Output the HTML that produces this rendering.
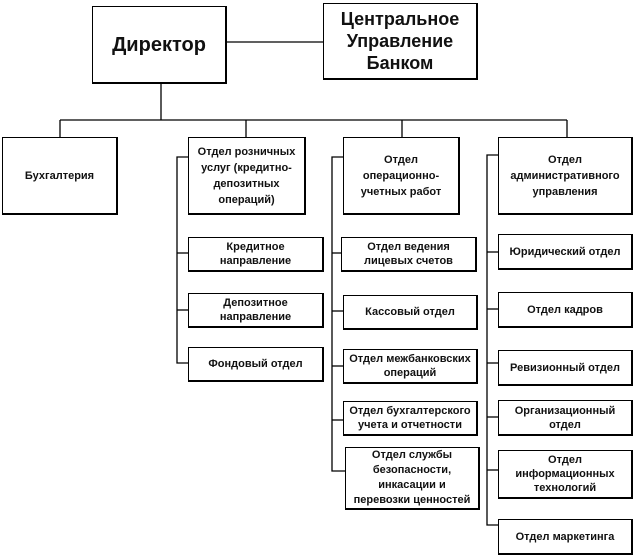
<!DOCTYPE html>
<html><head><meta charset="utf-8"><style>
body{margin:0;width:636px;height:556px;background:#fff;position:relative;overflow:hidden;font-family:"Liberation Sans","Noto Sans CJK SC",sans-serif;}
.b{position:absolute;box-sizing:border-box;border:1px solid #000;border-right-width:2px;border-bottom-width:2px;background:#fff;display:flex;align-items:center;justify-content:center;text-align:center;font-weight:bold;font-size:11px;line-height:14px;color:#111;}
.t{line-height:16px}
svg{position:absolute;left:0;top:0}
</style></head><body>
<svg width="636" height="556" stroke="#000" stroke-width="1.3" fill="none">
<line x1="227" y1="42" x2="323" y2="42"/>
<line x1="161" y1="84" x2="161" y2="120"/>
<line x1="60" y1="120" x2="567" y2="120"/>
<line x1="60" y1="120" x2="60" y2="137"/>
<line x1="246" y1="120" x2="246" y2="137"/>
<line x1="402" y1="120" x2="402" y2="137"/>
<line x1="567" y1="120" x2="567" y2="137"/>
<polyline points="188,157 177,157 177,363 188,363"/>
<line x1="177" y1="253" x2="188" y2="253"/>
<line x1="177" y1="310" x2="188" y2="310"/>
<polyline points="343,157 332,157 332,471 345,471"/>
<line x1="332" y1="253" x2="341" y2="253"/>
<line x1="332" y1="311" x2="343" y2="311"/>
<line x1="332" y1="366" x2="343" y2="366"/>
<line x1="332" y1="420" x2="343" y2="420"/>
<polyline points="498,155 487,155 487,525 498,525"/>
<line x1="487" y1="252" x2="498" y2="252"/>
<line x1="487" y1="309" x2="498" y2="309"/>
<line x1="487" y1="363" x2="498" y2="363"/>
<line x1="487" y1="417" x2="498" y2="417"/>
<line x1="487" y1="470" x2="498" y2="470"/>
</svg>
<div class="b" style="left:92px;top:6px;width:135px;height:78px;font-size:20px;line-height:24px">Директор</div>
<div class="b" style="left:323px;top:3px;width:155px;height:77px;font-size:18px;line-height:22px">Центральное<br>Управление<br>Банком</div>
<div class="b" style="left:2px;top:137px;width:116px;height:78px">Бухгалтерия</div>
<div class="b t" style="left:188px;top:137px;width:118px;height:78px">Отдел розничных<br>услуг (кредитно-<br>депозитных<br>операций)</div>
<div class="b t" style="left:343px;top:137px;width:117px;height:78px">Отдел<br>операционно-<br>учетных работ</div>
<div class="b t" style="left:498px;top:137px;width:135px;height:78px">Отдел<br>административного<br>управления</div>
<div class="b" style="left:188px;top:237px;width:136px;height:35px">Кредитное<br>направление</div>
<div class="b" style="left:188px;top:293px;width:136px;height:35px">Депозитное<br>направление</div>
<div class="b" style="left:188px;top:347px;width:136px;height:35px">Фондовый отдел</div>
<div class="b" style="left:341px;top:237px;width:136px;height:35px">Отдел ведения<br>лицевых счетов</div>
<div class="b" style="left:343px;top:295px;width:135px;height:35px">Кассовый отдел</div>
<div class="b" style="left:343px;top:349px;width:135px;height:35px">Отдел межбанковских<br>операций</div>
<div class="b" style="left:343px;top:401px;width:135px;height:35px">Отдел бухгалтерского<br>учета и отчетности</div>
<div class="b" style="left:345px;top:447px;width:135px;height:63px;line-height:15px">Отдел службы<br>безопасности,<br>инкасации и<br>перевозки ценностей</div>
<div class="b" style="left:498px;top:234px;width:135px;height:36px">Юридический отдел</div>
<div class="b" style="left:498px;top:292px;width:135px;height:36px">Отдел кадров</div>
<div class="b" style="left:498px;top:350px;width:135px;height:36px">Ревизионный отдел</div>
<div class="b" style="left:498px;top:400px;width:135px;height:36px">Организационный<br>отдел</div>
<div class="b" style="left:498px;top:450px;width:135px;height:49px">Отдел<br>информационных<br>технологий</div>
<div class="b" style="left:498px;top:519px;width:135px;height:36px">Отдел маркетинга</div>
</body></html>
